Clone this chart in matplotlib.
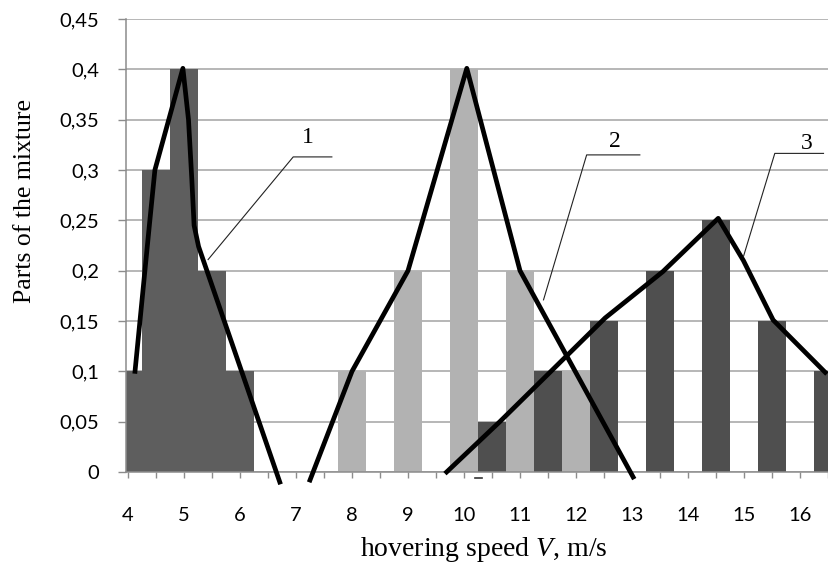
import numpy as np
import matplotlib
matplotlib.use("Agg")
import matplotlib.pyplot as plt

plt.rcParams["mathtext.fontset"] = "custom"
plt.rcParams["mathtext.rm"] = "Liberation Serif"
plt.rcParams["mathtext.it"] = "Liberation Serif:italic"

# bar histograms: speed (m/s) -> part of the mixture
speed1 = [4.0, 4.5, 5.0, 5.5, 6.0]
parts1 = [0.1, 0.3, 0.4, 0.2, 0.1]
speed2 = [8, 9, 10, 11, 12]
parts2 = [0.1, 0.2, 0.4, 0.2, 0.1]
speed3 = [10.5, 11.5, 12.5, 13.5, 14.5, 15.5, 16.5]
parts3 = [0.05, 0.1, 0.15, 0.2, 0.25, 0.15, 0.1]

# hand drawn distribution curves
curve1_x = [4.125, 4.39, 4.48, 4.98, 5.08, 5.14, 5.18, 5.26, 6.71]
curve1_y = [0.1, 0.25, 0.30, 0.401, 0.35, 0.29, 0.245, 0.224, -0.01]
curve2_x = [7.25, 8.0, 9.0, 10.05, 11.0, 13.02]
curve2_y = [-0.008, 0.1, 0.2, 0.401, 0.2, -0.005]
curve3_x = [9.69, 10.64, 12.52, 13.55, 14.54, 14.99, 15.52, 16.45]
curve3_y = [0.0, 0.05, 0.153, 0.199, 0.252, 0.21, 0.151, 0.099]

x_ticks = list(range(4, 17))
y_ticks = [0, 0.05, 0.1, 0.15, 0.2, 0.25, 0.3, 0.35, 0.4, 0.45]
y_labels = ["0", "0,05", "0,1", "0,15", "0,2", "0,25", "0,3", "0,35", "0,4", "0,45"]

# callout labels: text, text pos, shelf, tip on the curve
callouts = [
    ("1", (7.21, 0.332), (6.95, 7.64, 0.313), (5.43, 0.211)),
    ("2", (12.70, 0.328), (12.19, 13.14, 0.315), (11.42, 0.171)),
    ("3", (16.12, 0.326), (15.55, 16.42, 0.3165), (14.99, 0.214)),
]

fig = plt.figure(figsize=(8.29, 5.66), dpi=100)
ax = fig.add_axes([126 / 829, 94 / 566, 703 / 829, 453 / 566])

ax.bar(speed1, parts1, width=0.5, color="#5e5e5e", zorder=2)
ax.bar(speed2, parts2, width=0.49, color="#b2b2b2", zorder=2)
ax.bar(speed3, parts3, width=0.49, color="#4f4f4f", zorder=2)

for cx, cy in [(curve1_x, curve1_y), (curve2_x, curve2_y), (curve3_x, curve3_y)]:
    ax.plot(cx, cy, color="black", lw=3.4, solid_joinstyle="round",
            clip_on=False, zorder=4)

for name, (tx, ty), (sx0, sx1, sy), (px, py) in callouts:
    ax.plot([sx1, sx0, px], [sy, sy, py], color="#222222", lw=0.8, zorder=5)
    ax.text(tx, ty, name, family="Liberation Serif", fontsize=17,
            ha="center", va="center", zorder=5)

# small stray dash under the axis
ax.plot([10.2, 10.32], [-0.0055, -0.0055], color="#333333", lw=1.2, clip_on=False)

ax.set_xlim(3.964, 16.518)
ax.set_ylim(0, 0.45)

ax.set_xticks(x_ticks)
ax.set_xticklabels([str(v) for v in x_ticks], family="Lato", fontsize=14.5)
ax.set_xticks(np.arange(4.5, 17, 1), minor=True)
ax.set_yticks(y_ticks)
ax.set_yticklabels(y_labels, family="Lato", fontsize=14.5)

ax.tick_params(axis="x", which="both", length=4.5, width=1, color="#8c8c8c", pad=21)
ax.tick_params(axis="y", length=5.5, width=1, color="#8c8c8c", pad=14)

ax.yaxis.grid(True, color="#a3a3a3", lw=1.1)
ax.set_axisbelow(True)
for side in ["top", "right"]:
    ax.spines[side].set_visible(False)
for side in ["left", "bottom"]:
    ax.spines[side].set_color("#8c8c8c")
    ax.spines[side].set_linewidth(1.1)

fig.text(484 / 829, 1 - 550 / 566, r"hovering speed $V$, m/s",
         family="Liberation Serif", fontsize=20, ha="center", va="center")
fig.text(25 / 829, 1 - 201 / 566, "Parts of the mixture",
         family="Liberation Serif", fontsize=18.5, rotation=90,
         ha="center", va="center")

fig.savefig("out.png", dpi=100)
